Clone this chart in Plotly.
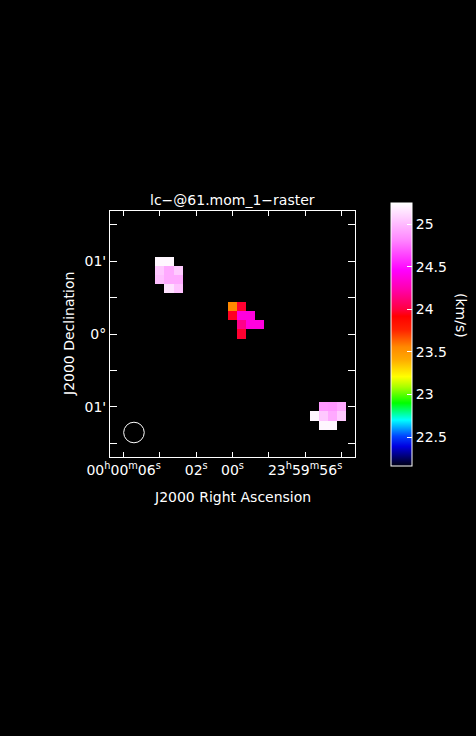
import plotly.graph_objects as go

# ---- data (RA offset in seconds of time from 00h00m00s, Dec offset in arcsec) ----
ra_sec = [4.0, 3.5,
          4.0, 3.5, 3.0,
          4.0, 3.5, 3.0,
          3.5, 3.0,
          0.0, -0.5,
          0.0, -0.5, -1.0,
          -0.5, -1.0, -1.5,
          -0.5,
          -5.0, -5.5, -6.0,
          -4.5, -5.0, -5.5, -6.0,
          -5.0, -5.5]
dec_arcsec = [60.0, 60.0,
              52.5, 52.5, 52.5,
              45.0, 45.0, 45.0,
              37.5, 37.5,
              22.5, 22.5,
              15.0, 15.0, 15.0,
              7.5, 7.5, 7.5,
              0.0,
              -60.0, -60.0, -60.0,
              -67.5, -67.5, -67.5, -67.5,
              -75.0, -75.0]
velocity = [25.22, 25.22,
            25.05, 24.94, 25.06,
            25.02, 24.94, 24.94,
            25.14, 25.03,
            23.56, 23.98,
            23.96, 24.37, 24.37,
            24.16, 24.37, 24.37,
            23.98,
            24.88, 24.87, 24.94,
            25.22, 25.05, 24.94, 25.06,
            25.22, 25.22]

ra_tickvals = [6, 2, 0, -4]
ra_ticktext = ["00<sup>h</sup>00<sup>m</sup>06<sup>s</sup>", "02<sup>s</sup>", "00<sup>s</sup>",
               "23<sup>h</sup>59<sup>m</sup>56<sup>s</sup>"]
ra_minor_step = 2
dec_tickvals = [60, 0, -60]
dec_ticktext = ["01'", "0°", "01'"]
dec_minor_step = 30
cbar_tickvals = [22.5, 23, 23.5, 24, 24.5, 25]

vmin, vmax = 22.16, 25.25
cmap_vals = [22.16, 22.39, 22.51, 22.70, 22.90, 23.09, 23.21, 23.41, 23.56, 23.76, 23.92, 24.0, 24.23, 24.46, 24.82, 25.25]
cmap_cols = ["#000010", "#0000e0", "#0044ff", "#00ffff", "#00ff00", "#aaff00", "#ffff00", "#ffaa00",
             "#ff8800", "#ff2200", "#ff0000", "#ff0040", "#ff00aa", "#ff00ff", "#ff88ff", "#ffffff"]

# ---- grid ----
npix = 27
step_ra = 0.5
step_dec = 7.5
xc = [6.5 - step_ra * i for i in range(npix)]
yc = [97.5 - step_dec * j for j in range(npix)]
z = [[None] * npix for _ in range(npix)]
for r, d, v in zip(ra_sec, dec_arcsec, velocity):
    i = int(round((6.5 - r) / step_ra))
    j = int(round((97.5 - d) / step_dec))
    z[j][i] = v

colorscale = [[(v - vmin) / (vmax - vmin), c] for v, c in zip(cmap_vals, cmap_cols)]

FONT = "DejaVu Sans"
fig = go.Figure()
fig.add_trace(go.Heatmap(
    x=xc, y=yc, z=z, zmin=vmin, zmax=vmax, colorscale=colorscale,
    hoverongaps=False,
    colorbar=dict(
        thickness=21, thicknessmode="pixels",
        len=263, lenmode="pixels",
        x=(391 - 110) / 245, xanchor="left", xpad=0,
        y=(457 - 334.5) / 246, yanchor="middle", ypad=0,
        outlinecolor="white", outlinewidth=1,
        tickvals=cbar_tickvals, ticktext=[str(t) for t in cbar_tickvals],
        ticks="inside", ticklen=5, tickcolor="white",
        tickfont=dict(color="white", size=14, family=FONT),
    ),
))

x_half = 6.75
y_half = 101.25
fig.update_xaxes(range=[x_half, -x_half], showgrid=False, zeroline=False,
                 tickvals=ra_tickvals, ticktext=ra_ticktext,
                 ticks="inside", ticklen=5, tickcolor="white",
                 minor=dict(ticks="inside", ticklen=5, tickcolor="white",
                            tick0=0, dtick=ra_minor_step, showgrid=False),
                 showline=True, linecolor="white", linewidth=1, mirror="allticks",
                 tickfont=dict(color="white", size=14, family=FONT))
fig.update_yaxes(range=[-y_half, y_half], showgrid=False, zeroline=False,
                 tickvals=dec_tickvals, ticktext=dec_ticktext,
                 ticks="inside", ticklen=7, tickcolor="white",
                 minor=dict(ticks="inside", ticklen=7, tickcolor="white",
                            tick0=0, dtick=dec_minor_step, showgrid=False),
                 showline=True, linecolor="white", linewidth=1, mirror="allticks",
                 tickfont=dict(color="white", size=14, family=FONT))

# beam ellipse
beam_ra, beam_dec, beam_r_ra, beam_r_dec = 5.43, -81.1, 0.567, 8.47
fig.add_shape(type="circle", xref="x", yref="y",
              x0=beam_ra - beam_r_ra, x1=beam_ra + beam_r_ra,
              y0=beam_dec - beam_r_dec, y1=beam_dec + beam_r_dec,
              line=dict(color="white", width=1))

fig.add_annotation(text="lc−@61.mom_1−raster", xref="paper", yref="paper",
                   x=0.5, y=1 + (211 - 200) / 246, yanchor="middle", showarrow=False,
                   font=dict(color="white", size=14, family=FONT))
fig.add_annotation(text="J2000 Right Ascension", xref="paper", yref="paper",
                   x=0.5, y=-(497 - 457) / 246, yanchor="middle", showarrow=False,
                   font=dict(color="white", size=14, family=FONT))
fig.add_annotation(text="J2000 Declination", xref="paper", yref="paper",
                   x=(69 - 110) / 245, y=0.5, xanchor="center", yanchor="middle",
                   textangle=-90, showarrow=False,
                   font=dict(color="white", size=14, family=FONT))
fig.add_annotation(text="(km/s)", xref="paper", yref="paper",
                   x=(461 - 110) / 245, y=(457 - 315) / 246, xanchor="center", yanchor="middle",
                   textangle=90, showarrow=False,
                   font=dict(color="white", size=14, family=FONT))

fig.update_layout(width=476, height=736, autosize=False,
                  margin=dict(l=110, r=121, t=211, b=279),
                  paper_bgcolor="black", plot_bgcolor="black",
                  showlegend=False)

fig.write_html("out.html", config={"displayModeBar": False},
               post_script="document.body.style.margin='0';document.body.style.background='black';")
